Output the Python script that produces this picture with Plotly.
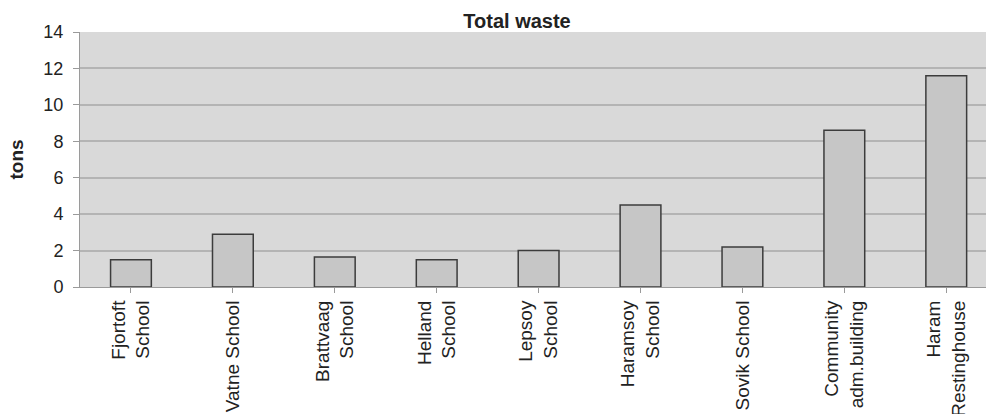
import plotly.graph_objects as go

# Waste totals per municipal building (tons)
buildings = [
    "Fjortoft<br>School",
    "Vatne School",
    "Brattvaag<br>School",
    "Helland<br>School",
    "Lepsoy<br>School",
    "Haramsoy<br>School",
    "Sovik School",
    "Community<br>adm.building",
    "Haram<br>Restinghouse",
]
waste_tons = [1.5, 2.9, 1.65, 1.5, 2.0, 4.5, 2.2, 8.6, 11.6]
y_ticks = [0, 2, 4, 6, 8, 10, 12, 14]

FONT = "Liberation Sans, Arial, sans-serif"
W, H = 986, 414
L, T, B = 80, 32, 127
PLOT_W = W - L

fig = go.Figure(
    go.Bar(
        x=list(range(len(buildings))),
        y=waste_tons,
        width=0.4,
        marker=dict(color="#c6c6c6", line=dict(color="#3c3c3c", width=1.5)),
        hoverinfo="skip",
    )
)

fig.update_layout(
    width=W,
    height=H,
    margin=dict(l=L, r=0, t=T, b=B, pad=0, autoexpand=False),
    paper_bgcolor="white",
    plot_bgcolor="#d9d9d9",
    showlegend=False,
    font=dict(family=FONT, color="#222222", size=17),
    title=dict(
        text="<b>Total waste</b>",
        x=(517 - L) / PLOT_W,
        xanchor="center",
        xref="paper",
        yref="container",
        y=1 - 21 / H,
        yanchor="middle",
        font=dict(family=FONT, size=20, color="#222222"),
    ),
    annotations=[
        dict(
            text="<b>tons</b>",
            textangle=-90,
            xref="paper",
            yref="paper",
            x=(16 - L) / PLOT_W,
            y=0.5,
            xanchor="center",
            yanchor="middle",
            showarrow=False,
            font=dict(family=FONT, size=19, color="#222222"),
        )
    ],
)

fig.update_xaxes(
    tickmode="array",
    tickvals=list(range(len(buildings))),
    ticktext=buildings,
    tickangle=-90,
    range=[-0.5, 8.39],
    automargin=False,
    showgrid=False,
    zeroline=False,
    showline=True,
    linecolor="#9a9a9a",
    linewidth=1,
    ticks="outside",
    tickson="boundaries",
    ticklen=5,
    tickcolor="#9a9a9a",
    tickfont=dict(family=FONT, size=19, color="#222222"),
)

fig.update_yaxes(
    range=[0, 14],
    tickvals=y_ticks,
    automargin=False,
    showgrid=True,
    gridcolor="#b4b4b4",
    gridwidth=1.5,
    zeroline=False,
    showline=True,
    linecolor="#9a9a9a",
    linewidth=1,
    ticks="outside",
    ticklen=6,
    tickcolor="#9a9a9a",
    ticklabelstandoff=6,
    tickfont=dict(family=FONT, size=18, color="#222222"),
)

fig.write_html("out.html")
